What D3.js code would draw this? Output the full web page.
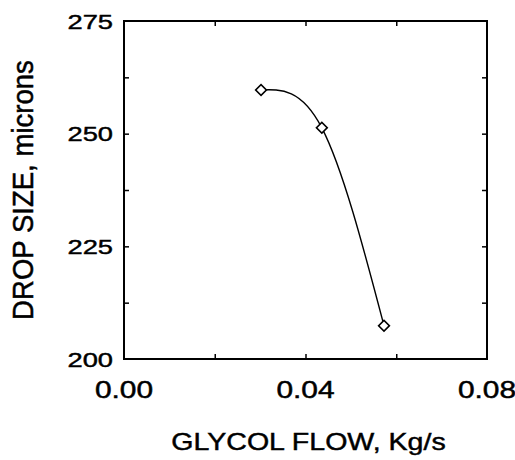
<!DOCTYPE html>
<html>
<head>
<meta charset="utf-8">
<script src="https://cdn.jsdelivr.net/npm/d3@7"></script>
<style>
  html, body { margin: 0; padding: 0; background: #fff; }
  svg { display: block; }
  text { font-family: "Liberation Sans", Arial, Helvetica, sans-serif; fill: #000; stroke: #000; stroke-width: 0.45px; }
</style>
</head>
<body>
<svg id="chart" width="515" height="460"></svg>
<script>
// ---- data ----
const glycolFlow = [0.0302, 0.0436, 0.0573];   // Kg/s
const dropSize   = [259.7, 251.3, 207.4];      // microns
const xTickValues = [0.00, 0.04, 0.08];
const xTickLabels = ["0.00", "0.04", "0.08"];
const xMinorTicks = [0.02, 0.04, 0.06];
const yTickValues = [200, 225, 250, 275];
const yTickLabels = ["200", "225", "250", "275"];
const yMinorTicks = [212.5, 225, 237.5, 250, 262.5];
const xTitle = "GLYCOL FLOW, Kg/s";
const yTitle = "DROP SIZE, microns";

const svg = d3.select("#chart");
const L = 124, R = 487, T = 21, B = 359;

const x = d3.scaleLinear().domain([0, 0.08]).range([L, R]);
const y = d3.scaleLinear().domain([200, 275]).range([B, T]);

// frame
svg.append("rect")
  .attr("x", L).attr("y", T).attr("width", R - L).attr("height", B - T)
  .attr("fill", "none").attr("stroke", "#000").attr("stroke-width", 2);

// inward ticks via axes
const tickLen = 5;
svg.append("g").attr("transform", `translate(0,${B})`)
  .call(d3.axisTop(x).tickValues(xMinorTicks).tickSize(tickLen).tickFormat(""))
  .call(g => g.select(".domain").remove())
  .selectAll("line").attr("stroke", "#000").attr("stroke-width", 1.5);
svg.append("g").attr("transform", `translate(0,${T})`)
  .call(d3.axisBottom(x).tickValues(xMinorTicks).tickSize(tickLen).tickFormat(""))
  .call(g => g.select(".domain").remove())
  .selectAll("line").attr("stroke", "#000").attr("stroke-width", 1.5);
svg.append("g").attr("transform", `translate(${L},0)`)
  .call(d3.axisRight(y).tickValues(yMinorTicks).tickSize(tickLen).tickFormat(""))
  .call(g => g.select(".domain").remove())
  .selectAll("line").attr("stroke", "#000").attr("stroke-width", 1.5);
svg.append("g").attr("transform", `translate(${R},0)`)
  .call(d3.axisLeft(y).tickValues(yMinorTicks).tickSize(tickLen).tickFormat(""))
  .call(g => g.select(".domain").remove())
  .selectAll("line").attr("stroke", "#000").attr("stroke-width", 1.5);

// tick labels (scanned text appears horizontally stretched)
const xs = 1.3;
svg.append("g").selectAll("text")
  .data(xTickValues)
  .join("text")
  .attr("transform", d => `translate(${x(d)},398) scale(${xs},1)`)
  .attr("text-anchor", "middle")
  .attr("font-size", 23)
  .text((d, i) => xTickLabels[i]);

svg.append("g").selectAll("text")
  .data(yTickValues)
  .join("text")
  .attr("transform", d => `translate(113,${y(d) + 7.5}) scale(${xs},1)`)
  .attr("text-anchor", "end")
  .attr("font-size", 21)
  .text((d, i) => yTickLabels[i]);

// axis titles
svg.append("text")
  .attr("transform", `translate(${(L + R) / 2 + 3},450) scale(1.19,1)`)
  .attr("text-anchor", "middle")
  .attr("font-size", 24)
  .text(xTitle);

svg.append("text")
  .attr("transform", `translate(33,${(T + B) / 2}) rotate(-90) scale(1.06,1.12)`)
  .attr("text-anchor", "middle")
  .attr("font-size", 26)
  .text(yTitle);

// curve (natural cubic spline through the points)
const pts = glycolFlow.map((f, i) => [x(f), y(dropSize[i])]);
svg.append("path")
  .datum(pts)
  .attr("fill", "none")
  .attr("stroke", "#000")
  .attr("stroke-width", 1.4)
  .attr("d", d3.line().curve(d3.curveNatural));

// diamond markers
svg.append("g").selectAll("path")
  .data(pts)
  .join("path")
  .attr("transform", d => `translate(${d[0]},${d[1]}) rotate(45)`)
  .attr("d", d3.symbol().type(d3.symbolSquare).size(58))
  .attr("fill", "#fff")
  .attr("stroke", "#000")
  .attr("stroke-width", 1.6);
</script>
</body>
</html>
